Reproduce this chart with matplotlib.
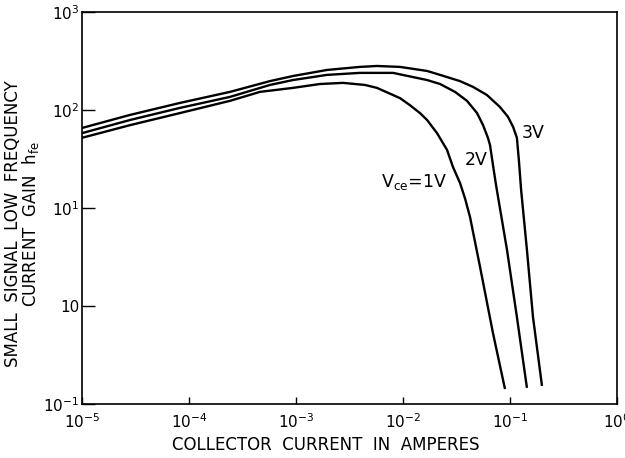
import matplotlib
matplotlib.use("Agg")
import matplotlib.pyplot as plt

# Collector current (A) and small-signal gain hfe for each Vce curve
x_3v = [1.00e-5, 2.81e-5, 8.24e-5, 2.42e-4, 5.71e-4, 9.37e-4, 1.95e-3, 3.96e-3, 5.71e-3,
        9.38e-3, 1.68e-2, 2.22e-2, 3.41e-2, 4.51e-2, 6.09e-2, 8.07e-2, 9.58e-2, 0.107,
        0.116, 0.121, 0.127, 0.144, 0.164, 0.199]
y_3v = [65.5, 89, 118, 153, 197, 222, 256, 275, 281,
        275, 250, 228, 197, 172, 142, 107, 85, 67,
        52, 30.9, 15.3, 3.72, 0.773, 0.153]

x_2v = [1.00e-5, 2.81e-5, 8.24e-5, 2.42e-4, 5.71e-4, 9.37e-4, 1.95e-3, 3.96e-3, 8.07e-3,
        1.68e-2, 2.22e-2, 3.06e-2, 3.96e-2, 4.92e-2, 5.60e-2, 6.22e-2, 6.50e-2, 6.93e-2,
        7.40e-2, 9.38e-2, 0.116, 0.144]
y_2v = [58, 79, 105, 136, 180, 202, 228, 239, 239,
        202, 184, 153, 124, 93, 70, 52, 44, 27.5,
        17.2, 3.72, 0.773, 0.146]

x_1v = [1.00e-5, 2.81e-5, 8.24e-5, 2.42e-4, 4.61e-4, 9.37e-4, 1.67e-3, 2.75e-3, 4.41e-3,
        5.71e-3, 9.38e-3, 1.16e-2, 1.44e-2, 1.68e-2, 2.08e-2, 2.58e-2, 2.93e-2, 3.41e-2,
        3.80e-2, 4.23e-2, 5.25e-2, 6.93e-2, 8.98e-2]
y_1v = [52, 70, 93, 124, 153, 168, 184, 189, 180,
        168, 132, 112, 93, 79, 58, 39.1, 26.2, 18.0,
        12.5, 8.09, 2.50, 0.530, 0.142]

x_ticks = [1e-5, 1e-4, 1e-3, 1e-2, 1e-1, 1e0]
x_ticklabels = [r"$10^{-5}$", r"$10^{-4}$", r"$10^{-3}$", r"$10^{-2}$", r"$10^{-1}$", r"$10^{0}$"]
y_ticks = [1e-1, 1e0, 1e1, 1e2, 1e3]
y_ticklabels = [r"$10^{-1}$", "10", r"$10^{1}$", r"$10^{2}$", r"$10^{3}$"]

plt.rcParams['font.family'] = ['DejaVu Sans']
plt.rcParams['mathtext.fontset'] = 'dejavusans'

fig = plt.figure(figsize=(6.25, 4.58), dpi=100)
ax = fig.add_axes([0.1312, 0.1179, 0.856, 0.856])

for xs, ys in [(x_1v, y_1v), (x_2v, y_2v), (x_3v, y_3v)]:
    ax.plot(xs, ys, color='black', lw=1.7, solid_capstyle='butt', solid_joinstyle='round')

ax.set_xscale('log')
ax.set_yscale('log')
ax.set_xlim(1e-5, 1e0)
ax.set_ylim(1e-1, 1e3)
ax.minorticks_off()
ax.set_xticks(x_ticks)
ax.set_xticklabels(x_ticklabels, fontsize=11)
ax.set_yticks(y_ticks)
ax.set_yticklabels(y_ticklabels, fontsize=11)
ax.tick_params(axis='x', direction='in', length=5, width=1, pad=6)
ax.tick_params(axis='y', direction='in', length=9, width=1, pad=2)
for s in ax.spines.values():
    s.set_linewidth(1.2)

ax.text(0.01268, 18.4, r"V$_{\mathregular{ce}}$=1V", fontsize=12.5, ha='center', va='center')
ax.text(0.0481, 30.9, "2V", fontsize=12.5, ha='center', va='center')
ax.text(0.164, 58.2, "3V", fontsize=12.5, ha='center', va='center')

fig.text(326 / 625, 1 - 445 / 458, "COLLECTOR  CURRENT  IN  AMPERES", fontsize=12,
         ha='center', va='center')
fig.text(13 / 625, 0.511, "SMALL  SIGNAL  LOW  FREQUENCY", fontsize=12,
         ha='center', va='center', rotation=90)
fig.text(31 / 625, 0.511, r"CURRENT  GAIN  h$_{\mathregular{fe}}$", fontsize=12,
         ha='center', va='center', rotation=90)

fig.savefig("out.png", dpi=100)
